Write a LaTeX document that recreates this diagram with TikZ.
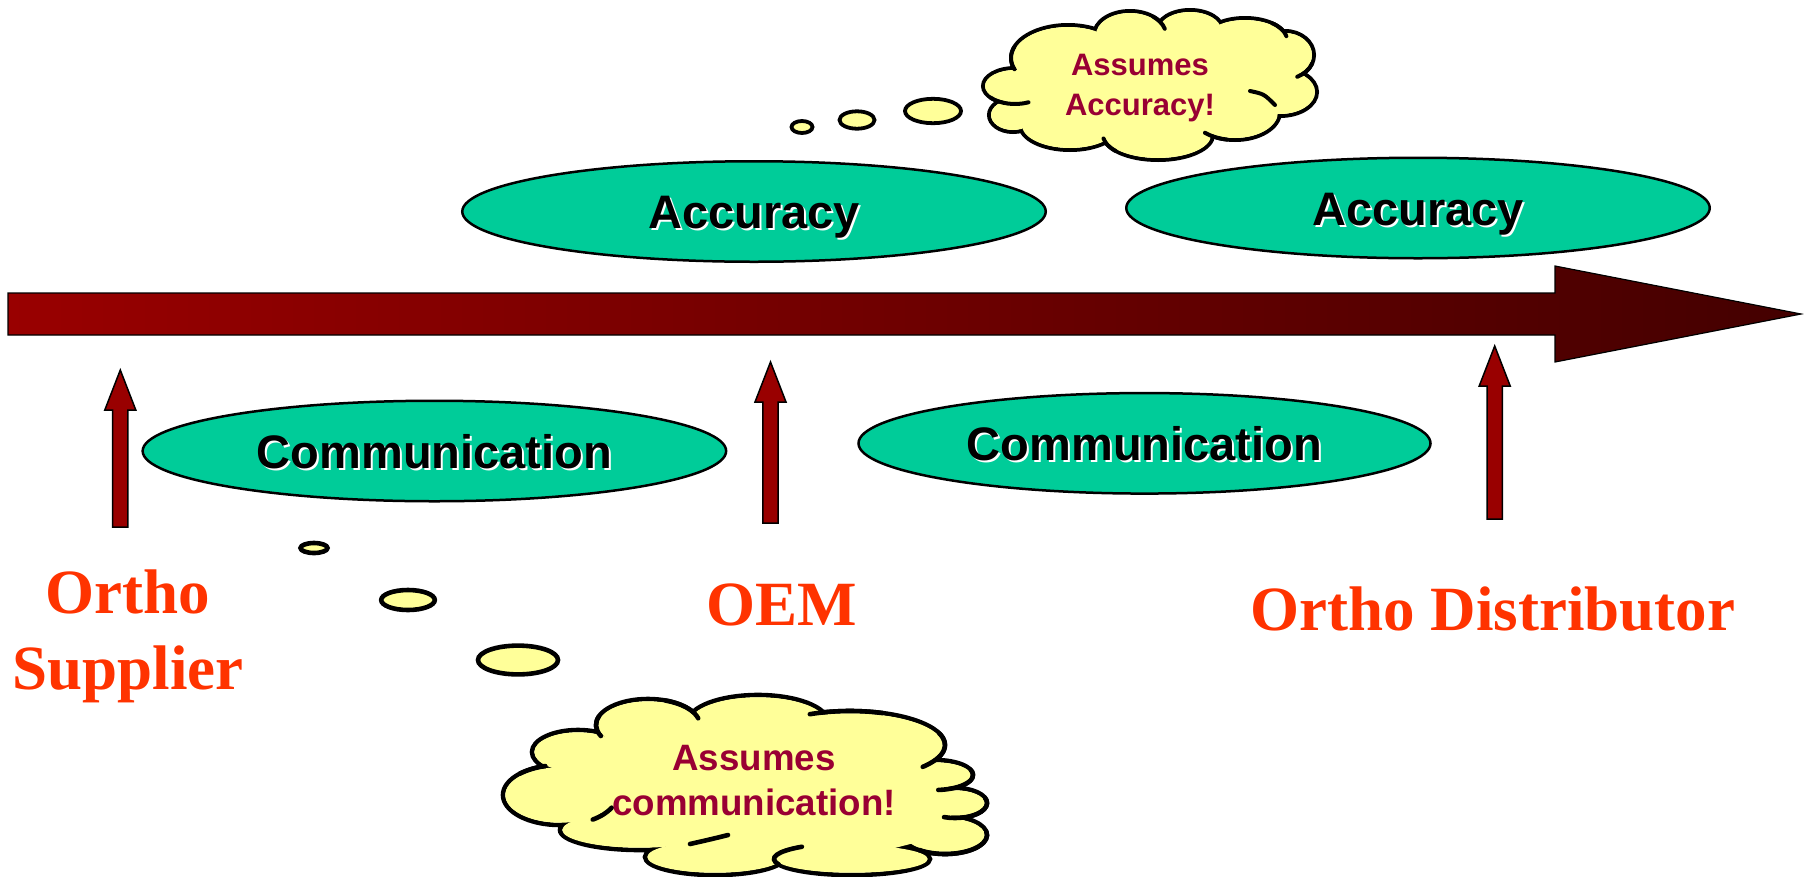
\documentclass[tikz,border=0pt]{standalone}
\usepackage{fontspec}
\setmainfont{Liberation Serif}
\newfontfamily\arialfont{Liberation Sans}
\usetikzlibrary{shapes.geometric}

\definecolor{ovalgreen}{HTML}{00CC99}
\definecolor{arrowred}{HTML}{990000}
\definecolor{arrowdark}{HTML}{440000}
\definecolor{labelred}{HTML}{FF3300}
\definecolor{thinkyellow}{HTML}{FFFF99}
\definecolor{thinkred}{HTML}{990033}

% text with a white drop shadow
\newcommand\shadowtxt[1]{\makebox[0pt][l]{\kern2pt\raisebox{-2pt}{\color{white}#1}}#1}

% upward block arrow: #1 name, #2 x, #3 tip y, #4 foot y
\newcommand\blockarrow[4]{%
  \draw[blockup] (#2-7.6,#4) -- (#2-7.6,#3+40) -- (#2-15.5,#3+40) -- (#2,#3)
     -- (#2+15.5,#3+40) -- (#2+7.6,#3+40) -- (#2+7.6,#4) -- cycle;
  \coordinate (#1) at (#2,#3);}

% part of a cloud lobe: centre x, centre y, x radius, y radius, from angle, to angle
\newcommand\lobearc[6]{%
  \draw (#1,#2) ++ (#5:#3 and #4) arc[start angle=#5, end angle=#6, x radius=#3, y radius=#4];}

% cloud: lobe list, half line width, filler polygon
\newcommand\cloudbody[3]{%
  \foreach \cx/\cy/\rx/\ry in #1
    \draw (\cx,\cy) ellipse [x radius=\rx, y radius=\ry];
  \foreach \cx/\cy/\rx/\ry in #1 {
    \pgfmathsetmacro\frx{\rx-#2}\pgfmathsetmacro\fry{\ry-#2}
    \fill[thinkyellow, draw=none] (\cx,\cy) ellipse [x radius=\frx, y radius=\fry];}
  \fill[thinkyellow, draw=none] #3 -- cycle;}

% cloud lobes: x/y/x radius/y radius
\def\toplobes{1015/86/32/18, 1068/58/57/33, 1130/35/36/24, 1190/30/33/20,
  1245/40/42/22, 1285/55/29/24, 1280/92/37/24, 1235/112/45/28,
  1158/135/55/25, 1070/125/50/25, 1013/115/24/17}
\def\bottomlobes{578/752/46/22, 648/725/52/26, 758/722/70/27, 850/745/95/34,
  935/775/38/15, 955/803/32/15, 945/835/42/19, 852/859/78/16,
  715/857/70/18, 640/830/80/20, 560/795/57/30}

\begin{document}
\begin{tikzpicture}[x=1pt,y=-1pt,
  oval/.style={ellipse, draw=black, fill=ovalgreen, line width=2.5pt,
    inner sep=0pt, minimum width=583.5pt, minimum height=100.5pt,
    text height=34pt, text depth=0pt,
    font=\arialfont\bfseries\fontsize{47}{56}\selectfont},
  blockup/.style={draw=black, fill=arrowred, line width=1.5pt},
  party/.style={text=labelred, inner sep=0pt, align=center,
    font=\bfseries\fontsize{63}{76}\selectfont},
  thought/.style={text=thinkred, inner sep=0pt, align=center},
  bubble/.style={draw=black, fill=thinkyellow},
]
\useasboundingbox[fill=white] (0,0) rectangle (1804,876);

% main timeline arrow
\draw[line width=1.2pt, left color=arrowred, right color=arrowdark]
  (8,293) -- (1555,293) -- (1555,266) -- (1801,314) -- (1555,362)
  -- (1555,335) -- (8,335) -- cycle;

% green ovals
\node[oval] (acc1) at (754,211.5) {\shadowtxt{Accuracy}};
\node[oval] (acc2) at (1418,208) {\shadowtxt{Accuracy}};
\node[oval] (comm1) at (434.4,451) {\shadowtxt{Communication}};
\node[oval, minimum width=572pt] (comm2) at (1144.5,443.3) {\shadowtxt{Communication}};

% upward block arrows
\blockarrow{supplierarrow}{120.3}{370}{527}
\blockarrow{oemarrow}{770.5}{362}{523}
\blockarrow{distarrow}{1494.7}{346}{519}

% party labels
\node[party] (supplier) at (128,636) {Ortho\\Supplier};
\node[party, anchor=base] (oem) at (782,625) {OEM};
\node[party, anchor=base] (distributor) at (1493,630) {Ortho Distributor};

% top thought cloud
\begin{scope}[line width=4pt, line cap=round]
  \cloudbody{\toplobes}{2}{(1015,86) -- (1068,58) -- (1130,35) -- (1190,30)
    -- (1245,40) -- (1285,55) -- (1280,92) -- (1235,112) -- (1158,135)
    -- (1070,125) -- (1013,115)}
  \lobearc{1068}{58}{57}{33}{200}{160}
  \lobearc{1130}{35}{36}{24}{-50}{-15}
  \lobearc{1245}{40}{42}{22}{-50}{-10}
  \lobearc{1285}{55}{29}{24}{20}{65}
  \lobearc{1235}{112}{45}{28}{100}{132}
  \lobearc{1158}{135}{55}{25}{140}{172}
  \lobearc{1015}{86}{32}{18}{140}{65}
  \draw (1250,91) .. controls (1264,94) .. (1275,105);
\end{scope}
\draw[bubble, line width=3.8pt] (802,127) ellipse [x radius=10.5, y radius=6];
\draw[bubble, line width=3.8pt] (857,120) ellipse [x radius=17.5, y radius=8.7];
\draw[bubble, line width=3.8pt] (933,111) ellipse [x radius=28, y radius=12.2];
\node[thought, font=\arialfont\bfseries\fontsize{31}{40.5}\selectfont]
  (accthought) at (1140,88) {Assumes\\Accuracy!};

% bottom thought cloud
\begin{scope}[line width=4.6pt, line cap=round]
  \cloudbody{\bottomlobes}{2.3}{(578,752) -- (648,725) -- (758,722) -- (850,745)
    -- (935,775) -- (955,803) -- (945,835) -- (852,859) -- (715,857)
    -- (640,830) -- (560,795)}
  \lobearc{648}{725}{52}{26}{200}{155}
  \lobearc{648}{725}{52}{26}{290}{345}
  \lobearc{850}{745}{95}{34}{290}{245}
  \lobearc{850}{745}{95}{34}{-20}{40}
  \lobearc{935}{775}{38}{15}{-20}{85}
  \lobearc{955}{803}{32}{15}{-20}{110}
  \lobearc{945}{835}{42}{19}{-10}{128}
  \lobearc{852}{859}{78}{16}{160}{230}
  \lobearc{560}{795}{57}{30}{25}{55}
  \lobearc{560}{795}{57}{30}{225}{255}
  \draw (728,835) .. controls (712,839) .. (690,844);
\end{scope}
\draw[bubble, line width=4.6pt] (314,548) ellipse [x radius=13.5, y radius=5];
\draw[bubble, line width=4.6pt] (408,600) ellipse [x radius=26.8, y radius=10];
\draw[bubble, line width=4.6pt] (518,660) ellipse [x radius=40, y radius=14.4];
\node[thought, font=\arialfont\bfseries\fontsize{36.7}{45}\selectfont]
  (commthought) at (754,781) {Assumes\\communication!};
\end{tikzpicture}
\end{document}
